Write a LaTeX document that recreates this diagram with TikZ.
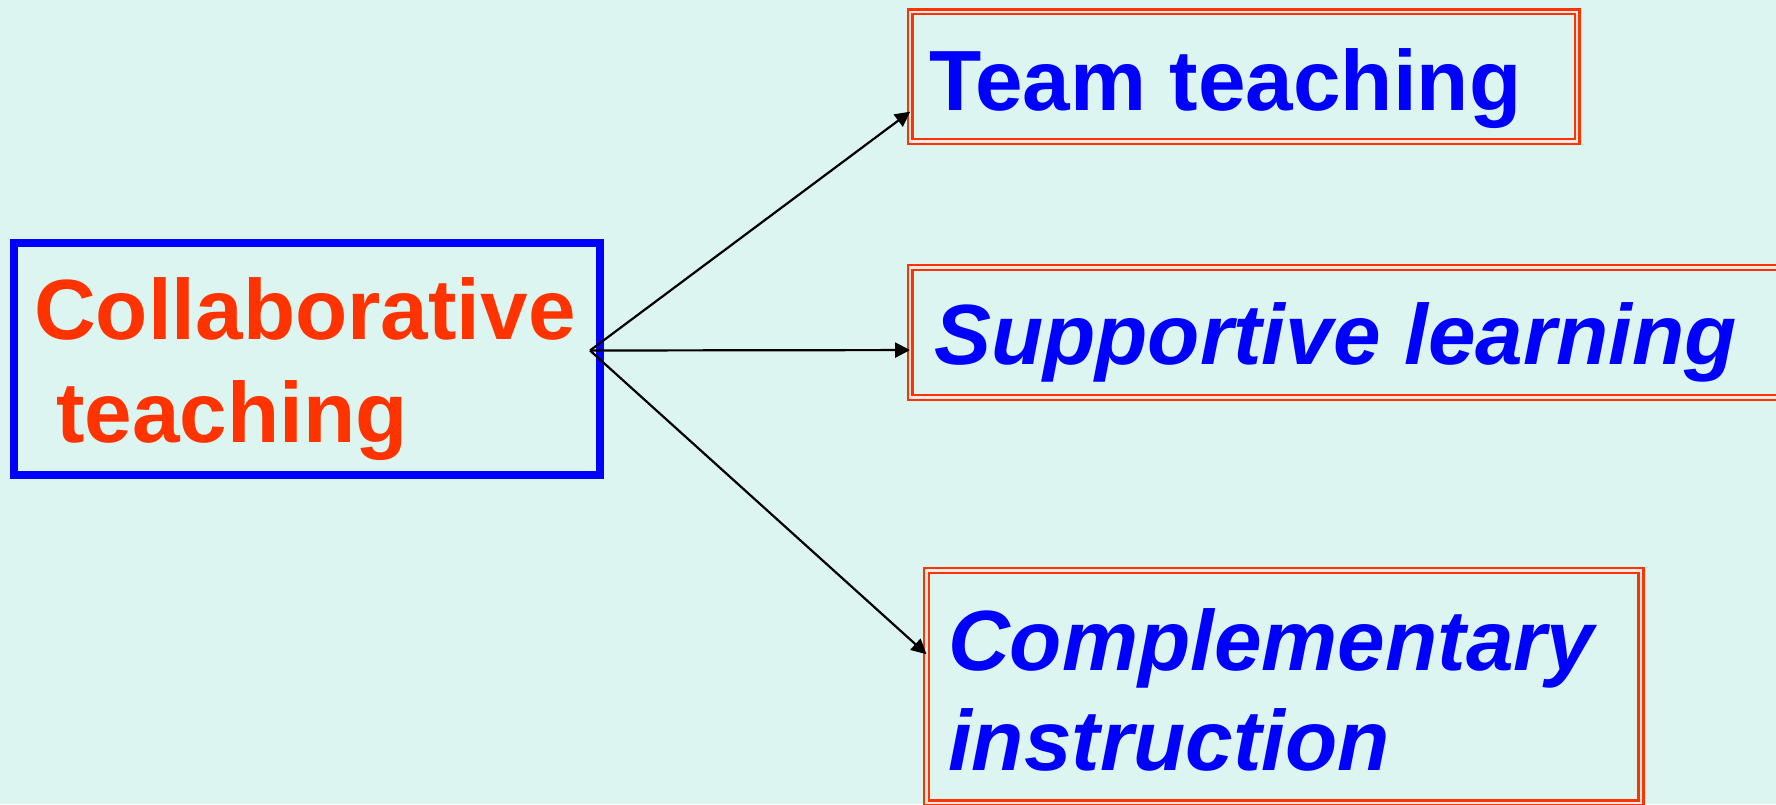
\documentclass[tikz,border=0pt]{standalone}
\usepackage{fontspec}
\setmainfont{Liberation Sans}
\usepackage{tikz}
\usepackage{xcolor}
\usetikzlibrary{arrows.meta,calc}
\definecolor{bgmint}{RGB}{221,245,240}
\definecolor{hotred}{RGB}{255,51,0}
\definecolor{deepblue}{RGB}{0,0,255}
\definecolor{gapwhite}{RGB}{242,234,230}
\newcommand{\BigText}{\fontsize{85.5}{102}\selectfont\bfseries}

\tikzset{
  mainbox/.style={draw=deepblue,line width=8pt,inner sep=0pt,outer sep=0pt},
  kindbox/.style={draw=hotred,line width=2.4pt,double=gapwhite,double distance=2.3pt,inner sep=0pt,outer sep=0pt},
  mainword/.style={anchor=base west,inner sep=0pt,text=hotred,font=\BigText},
  kindword/.style={anchor=base west,inner sep=0pt,text=deepblue,font=\BigText},
  pointer/.style={line width=2.2pt,-{Triangle[length=15pt,width=15pt]}}
}

\begin{document}
\begin{tikzpicture}[x=1pt,y=-1pt]
\useasboundingbox (0,0) rectangle (1776,804);
\clip (0,0) rectangle (1776,804);
\fill[bgmint] (0,0) rectangle (1776,804);% Background

\node[mainbox,minimum width=586pt,minimum height=232pt] (collab) at (307,359) {};
\node[kindbox,minimum width=667pt,minimum height=129.7pt] (team) at (1243.7,76.65) {};
\node[kindbox,minimum width=890pt,minimum height=130pt] (support) at (1355.1,332.5) {};
\node[kindbox,minimum width=714.5pt,minimum height=232.5pt] (compl) at (1283.75,686.75) {};

\node[mainword] (collabA) at (34,339) {Collaborative};
\node[mainword] (collabB) at (56,442) {teaching};
\node[kindword] (teamT) at (929,110) {Team teaching};
\node[kindword] (supportT) at (934,364) {\itshape Supportive learning};
\node[kindword] (complA) at (948,670) {\itshape Complementary};
\node[kindword] (complB) at (948,770) {\itshape instruction};

\coordinate (hub) at (590,350.5);
\draw[pointer] (hub) -- ($(team.south west)!0.23!(team.north west)$);
\draw[pointer] (hub) -- ($(support.south west)!0.365!(support.north west)$);
\draw[pointer] (hub) -- ($(compl.south west)!0.64!(compl.north west)$);
%% Labels of the hub for checking
%\node at (hub) {hub};
\end{tikzpicture}
\end{document}
